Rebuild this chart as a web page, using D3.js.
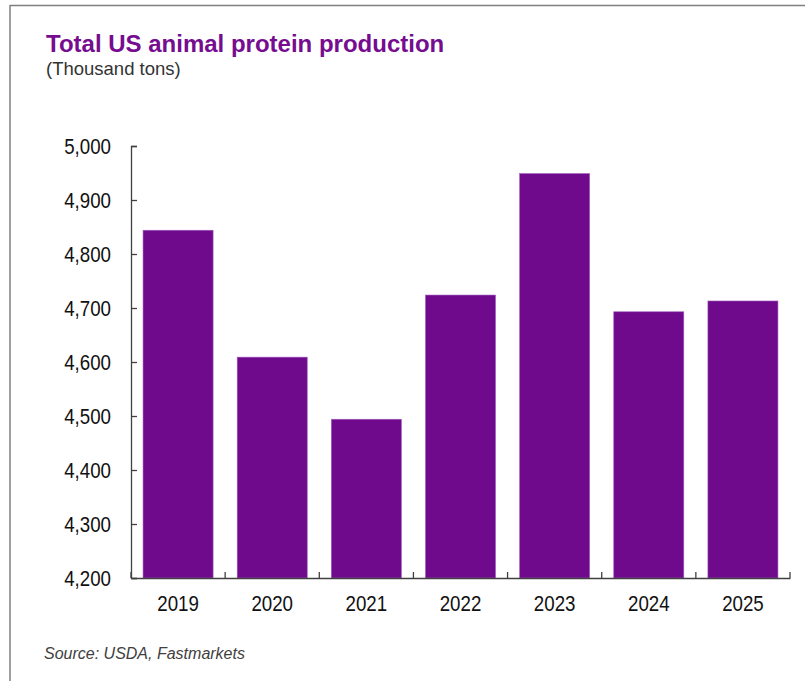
<!DOCTYPE html>
<html>
<head>
<meta charset="utf-8">
<script src="https://cdn.jsdelivr.net/npm/d3@7"></script>
<style>
  html, body { margin: 0; padding: 0; background: #fff; }
  svg { display: block; }
</style>
</head>
<body>
<svg id="chart" width="805" height="681"></svg>
<script>
const years = ["2019", "2020", "2021", "2022", "2023", "2024", "2025"];
const production = [4844, 4609, 4494, 4724, 4949, 4693, 4713];
const yTicks = [4200, 4300, 4400, 4500, 4600, 4700, 4800, 4900, 5000];
const titleText = "Total US animal protein production";
const subtitleText = "(Thousand tons)";
const sourceText = "Source: USDA, Fastmarkets";

(function () {
const svg = d3.select("#chart");
const W = 805, H = 681;
const mLeft = 131, mRight = 790, mTop = 146, mBottom = 578;
const squeeze = 0.85;

// frame
svg.append("line").attr("x1", 10).attr("x2", W).attr("y1", 5.5).attr("y2", 5.5)
  .attr("stroke", "#7f7f7f").attr("stroke-width", 1.5);
svg.append("line").attr("x1", 10).attr("x2", 10).attr("y1", 5).attr("y2", H)
  .attr("stroke", "#7f7f7f").attr("stroke-width", 1.5);

// titles
svg.append("text").attr("x", 46).attr("y", 52)
  .attr("font-family", "'Liberation Sans', Arial, sans-serif")
  .attr("font-weight", "bold").attr("font-size", 24)
  .attr("fill", "#760c8f").text(titleText);
svg.append("text").attr("x", 46).attr("y", 75)
  .attr("font-family", "'Liberation Sans', Arial, sans-serif")
  .attr("font-size", 18.5).attr("fill", "#333").text(subtitleText);
svg.append("text").attr("x", 44).attr("y", 659)
  .attr("font-family", "'Liberation Sans', Arial, sans-serif")
  .attr("font-style", "italic").attr("font-size", 16)
  .attr("fill", "#404040").text(sourceText);

const x = d3.scaleBand().domain(years).range([mLeft, mRight])
  .paddingInner(0.256).paddingOuter(0.128);
const y = d3.scaleLinear().domain([4200, 5000]).range([mBottom, mTop]);

// bars
svg.append("g").selectAll("rect").data(years).join("rect")
  .attr("x", d => x(d))
  .attr("width", x.bandwidth())
  .attr("y", (d, i) => y(production[i]))
  .attr("height", (d, i) => y(4200) - y(production[i]))
  .attr("fill", "#6e0a8b")
  .attr("stroke", "#a45cc0").attr("stroke-width", 0.6);

const labelFont = "'Liberation Sans', Arial, sans-serif";

// y axis
const yAxis = d3.axisLeft(y).tickValues(yTicks).tickSize(-6).tickPadding(20)
  .tickFormat(d3.format(","));
const gy = svg.append("g").attr("transform", `translate(${mLeft},0)`).call(yAxis);
gy.select(".domain").attr("stroke", "#404040").attr("stroke-width", 1.3);
gy.selectAll(".tick line").attr("stroke", "#404040").attr("stroke-width", 1.3);
gy.selectAll(".tick text").attr("font-family", labelFont).attr("font-size", 22)
  .attr("fill", "#111")
  .attr("x", -20 / squeeze)
  .attr("transform", `scale(${squeeze},1)`);

// x axis
const xAxis = d3.axisBottom(x).tickSize(0).tickPadding(17);
const gx = svg.append("g").attr("transform", `translate(0,${mBottom})`).call(xAxis);
gx.select(".domain").attr("stroke", "#404040").attr("stroke-width", 1.3);
gx.selectAll(".tick text").attr("font-family", labelFont).attr("font-size", 22)
  .attr("fill", "#111")
  .attr("transform", `scale(${squeeze},1)`);
// boundary ticks between categories
const step = x.step();
const bounds = d3.range(years.length + 1).map(i => mLeft + i * step);
gx.append("g").selectAll("line").data(bounds).join("line")
  .attr("x1", d => d).attr("x2", d => d).attr("y1", 0).attr("y2", -6)
  .attr("stroke", "#404040").attr("stroke-width", 1.3);
})();
</script>
</body>
</html>
